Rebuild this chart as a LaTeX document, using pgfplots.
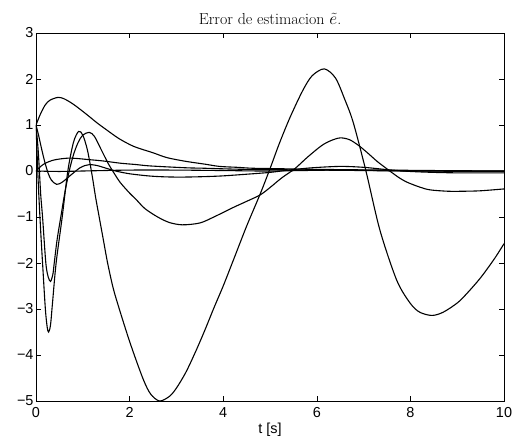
\documentclass[border=0pt]{standalone}
\usepackage{pgfplots}
\pgfplotsset{compat=1.18}
\usepackage{fontspec}
\newfontfamily\helv{Liberation Sans}
\begin{document}
\begin{tikzpicture}
\useasboundingbox (-36bp,-47bp) rectangle (478bp,401bp);
\begin{axis}[
  at={(0,0)}, anchor=south west,
  scale only axis, width=468bp, height=368bp,
  xmin=0, xmax=10, ymin=-5, ymax=3,
  xtick={0,2,4,6,8,10}, xticklabels={0,2,4,6,8,10},
  ytick={-5,-4,-3,-2,-1,0,1,2,3},
  yticklabels={−5,−4,−3,−2,−1,0,1,2,3},
  tick align=inside, major tick length=5bp,
  ticklabel style={font=\helv\fontsize{14.5}{16}\selectfont},
  yticklabel style={xshift=1bp},
  xticklabel style={yshift=-3bp},
  axis line style={line width=0.8bp},
  every tick/.style={black, line width=0.6bp},
  title={Error de estimacion $\tilde{e}$.},
  title style={font=\fontsize{16}{18}\selectfont, yshift=-1bp},
  xlabel={t [s]},
  xlabel style={font=\helv\fontsize{14.5}{16}\selectfont, yshift=2bp},
  clip=true,
]
% A
\addplot[black, line width=1.1bp, smooth] coordinates {
(0,1.0) (0.1,1.25) (0.2,1.44) (0.3,1.54) (0.47,1.60) (0.6,1.57) (0.8,1.45) (1.07,1.24) (1.3,1.05) (1.5,0.9) (1.78,0.70) (2.1,0.53) (2.49,0.40) (2.8,0.29) (3.2,0.21) (3.6,0.15) (3.92,0.10) (4.3,0.08) (4.63,0.06) (5.2,0.05) (5.7,0.04) (6.5,0.03) (7.5,0.02) (8.5,0.01) (10,0.0)};
% B
\addplot[black, line width=1.1bp, smooth] coordinates {
(0,1) (0.05,-0.3) (0.1,-1.3) (0.14,-2.0) (0.2,-3.0) (0.24,-3.4) (0.27,-3.5) (0.31,-3.35) (0.35,-2.9) (0.43,-2.0) (0.56,-1.0) (0.68,0.0) (0.8,0.62) (0.91,0.86) (1.0,0.78) (1.1,0.45) (1.2,-0.1) (1.27,-0.55) (1.35,-1.0) (1.44,-1.5) (1.53,-2.0) (1.65,-2.55) (1.78,-3.0) (1.95,-3.55) (2.1,-4.0) (2.3,-4.55) (2.45,-4.85) (2.64,-5.0) (2.85,-4.9) (3.0,-4.72) (3.2,-4.38) (3.4,-3.95) (3.6,-3.48) (3.8,-2.98) (4.0,-2.5) (4.22,-1.93) (4.5,-1.2) (4.79,-0.5) (5.0,0.05) (5.2,0.6) (5.43,1.17) (5.7,1.75) (5.9,2.07) (6.16,2.22) (6.4,2.02) (6.6,1.55) (6.78,1.05) (7.05,0.0) (7.35,-1.29) (7.71,-2.38) (8.0,-2.88) (8.2,-3.07) (8.46,-3.14) (8.7,-3.07) (9.0,-2.87) (9.2,-2.67) (9.5,-2.32) (9.8,-1.9) (10,-1.58)};
% C
\addplot[black, line width=1.1bp, smooth] coordinates {
(0,1) (0.05,0.4) (0.1,-0.5) (0.14,-1.0) (0.21,-2.0) (0.26,-2.3) (0.31,-2.4) (0.36,-2.25) (0.39,-2.0) (0.45,-1.5) (0.53,-1.0) (0.62,-0.45) (0.71,0.0) (0.8,0.35) (0.9,0.62) (1.0,0.78) (1.14,0.84) (1.25,0.75) (1.4,0.45) (1.55,0.15) (1.67,-0.05) (1.8,-0.25) (2.0,-0.48) (2.14,-0.62) (2.33,-0.82) (2.6,-1.0) (2.85,-1.12) (3.13,-1.17) (3.5,-1.13) (3.8,-1.0) (4.2,-0.8) (4.5,-0.66) (4.79,-0.52) (5.0,-0.36) (5.25,-0.15) (5.53,0.05) (5.8,0.3) (6.1,0.55) (6.3,0.66) (6.5,0.72) (6.7,0.68) (6.9,0.55) (7.1,0.38) (7.3,0.2) (7.56,0.0) (7.75,-0.14) (7.92,-0.24) (8.2,-0.35) (8.42,-0.41) (8.8,-0.44) (9.13,-0.44) (9.5,-0.43) (10,-0.39)};
% D
\addplot[black, line width=1.1bp, smooth] coordinates {
(0,1.0) (0.05,0.8) (0.1,0.57) (0.15,0.35) (0.2,0.15) (0.26,-0.05) (0.33,-0.2) (0.44,-0.29) (0.55,-0.25) (0.65,-0.17) (0.73,-0.1) (0.85,0.0) (0.94,0.07) (1.05,0.12) (1.15,0.14) (1.3,0.12) (1.5,0.06) (1.7,0.0) (2.0,-0.06) (2.44,-0.11) (2.85,-0.13) (3.3,-0.13) (3.92,-0.11) (4.5,-0.07) (5.0,-0.03) (5.4,0.02) (5.9,0.07) (6.5,0.10) (7.0,0.08) (7.5,0.03) (8.0,-0.01) (8.5,-0.03) (9.0,-0.04) (10,-0.04)};
% E
\addplot[black, line width=1.1bp, smooth] coordinates {
(0,0.0) (0.1,0.1) (0.2,0.17) (0.35,0.23) (0.5,0.26) (0.7,0.28) (0.9,0.27) (1.1,0.25) (1.42,0.22) (1.8,0.17) (2.14,0.14) (2.44,0.11) (3.2,0.07) (3.6,0.06) (4.27,0.04) (5.0,0.03) (6,0.02) (7,0.01) (8,0.0) (10,0.0)};
% F
\addplot[black, line width=1.1bp, smooth] coordinates {
(0,0.0) (0.5,-0.01) (1,0.0) (2,0.02) (3,0.02) (4,0.01) (5,0.0) (6.5,0.02) (8,0.0) (10,-0.01)};
\end{axis}
\end{tikzpicture}
\end{document}
